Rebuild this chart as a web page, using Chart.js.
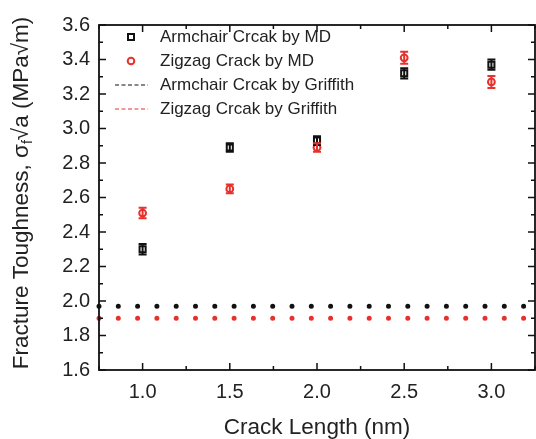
<!DOCTYPE html>
<html>
<head>
<meta charset="utf-8">
<script src="https://cdn.jsdelivr.net/npm/chart.js@4"></script>
<style>
  html, body { margin: 0; padding: 0; background: #fff; }
  #wrap { width: 536px; height: 439px; }
</style>
</head>
<body>
<div id="wrap"><canvas id="toughChart" width="536" height="439"></canvas></div>
<script>
// crack length (nm)
let crackLen = [1.0, 1.5, 2.0, 2.5, 3.0];
let armchairMD = [2.30, 2.89, 2.93, 3.32, 3.37];
let armchairErr = [0.03, 0.025, 0.025, 0.03, 0.03];
let zigzagMD = [2.51, 2.65, 2.89, 3.41, 3.27];
let zigzagErr = [0.03, 0.025, 0.025, 0.035, 0.035];
let griffithArmchair = 1.97;
let griffithZigzag = 1.90;
let xTicks = [1.0, 1.5, 2.0, 2.5, 3.0];
let yTicks = [1.6, 1.8, 2.0, 2.2, 2.4, 2.6, 2.8, 3.0, 3.2, 3.4, 3.6];
let xRange = [0.75, 3.25];

let labels = ['Armchair Crcak by MD', 'Zigzag Crack by MD', 'Armchair Crcak by Griffith', 'Zigzag Crcak by Griffith'];
let xTitle = 'Crack Length (nm)';
let RED = '#e8302c';
let FONT = '"Liberation Sans", Arial, sans-serif';

// error bars, drawn through the scales
let errorBars = {
    id: 'errorBars',
    afterDatasetsDraw(chart) {
        let c = chart.ctx, xs = chart.scales.x, ys = chart.scales.y;
        let sets = [[armchairMD, armchairErr, '#111'], [zigzagMD, zigzagErr, RED]];
        sets.forEach(s => {
            c.save();
            c.strokeStyle = s[2];
            c.lineWidth = 2;
            crackLen.forEach((x, i) => {
                let px = xs.getPixelForValue(x);
                let top = ys.getPixelForValue(s[0][i] + s[1][i]);
                let bot = ys.getPixelForValue(s[0][i] - s[1][i]);
                c.beginPath();
                c.moveTo(px, top); c.lineTo(px, bot);
                c.moveTo(px - 4, top); c.lineTo(px + 4, top);
                c.moveTo(px - 4, bot); c.lineTo(px + 4, bot);
                c.stroke();
            });
            c.restore();
        });
    }
};

// box frame with inward ticks, titles, legend
let frame = {
    id: 'frame',
    afterDraw(chart) {
        let c = chart.ctx, a = chart.chartArea, xs = chart.scales.x, ys = chart.scales.y;
        c.save();
        c.strokeStyle = '#111';
        c.lineWidth = 1.8;
        c.strokeRect(a.left, a.top, a.right - a.left, a.bottom - a.top);
        c.lineWidth = 1.5;
        c.beginPath();
        for (let v = 0.75; v <= 3.26; v += 0.25) {
            let px = xs.getPixelForValue(v);
            let len = (Math.abs(v * 2 - Math.round(v * 2)) < 0.01) ? 7 : 4;
            c.moveTo(px, a.bottom); c.lineTo(px, a.bottom - len);
            c.moveTo(px, a.top); c.lineTo(px, a.top + len);
        }
        for (let k = 16; k <= 36; k++) {
            let py = ys.getPixelForValue(k / 10);
            let len = (k % 2 === 0) ? 7 : 4;
            c.moveTo(a.left, py); c.lineTo(a.left + len, py);
            c.moveTo(a.right, py); c.lineTo(a.right - len, py);
        }
        c.stroke();

        // x title
        c.fillStyle = '#222';
        c.textAlign = 'center';
        c.textBaseline = 'middle';
        c.font = '22.5px ' + FONT;
        c.fillText(xTitle, (a.left + a.right) / 2, 428);

        // y title with subscript
        c.textAlign = 'left';
        c.translate(22, 193);
        c.rotate(-Math.PI / 2);
        let p1 = 'Fracture Toughness, \u03c3', p2 = 'f', p3 = '\u221aa (MPa\u221am)';
        c.font = '22.5px ' + FONT;
        let w1 = c.measureText(p1).width, w3 = c.measureText(p3).width;
        c.font = '14px ' + FONT;
        let w2 = c.measureText(p2).width;
        let sx = -(w1 + w2 + w3) / 2;
        c.font = '22.5px ' + FONT;
        c.fillText(p1, sx, 0);
        c.font = '14px ' + FONT;
        c.fillText(p2, sx + w1, 6);
        c.font = '22.5px ' + FONT;
        c.fillText(p3, sx + w1 + w2, 0);
        c.restore();

        // legend
        c.save();
        c.font = '17px ' + FONT;
        c.fillStyle = '#222';
        c.textBaseline = 'middle';
        let rows = [37, 61, 85, 109];
        rows.forEach((y, i) => {
            c.fillText(labels[i], 160, y);
        });
        c.lineWidth = 2;
        c.strokeStyle = '#111';
        c.strokeRect(128, 34, 6, 6);
        c.strokeStyle = RED;
        c.beginPath(); c.arc(131, 61, 3.3, 0, Math.PI * 2); c.stroke();
        c.lineWidth = 1.2;
        c.setLineDash([4, 2.5]);
        c.strokeStyle = '#111';
        c.beginPath(); c.moveTo(115, 85); c.lineTo(148, 85); c.stroke();
        c.strokeStyle = RED;
        c.beginPath(); c.moveTo(115, 109); c.lineTo(148, 109); c.stroke();
        c.restore();
    }
};

let ctx = document.getElementById('toughChart').getContext('2d');
let toughChart = new Chart(ctx, {
    type: 'scatter',
    data: {
        datasets: [{
            label: labels[0],
            data: crackLen.map((x, i) => ({x: x, y: armchairMD[i]})),
            pointStyle: 'rect',
            pointRadius: 4.3,
            borderColor: '#111',
            backgroundColor: 'rgba(0,0,0,0)',
            borderWidth: 2
        }, {
            label: labels[1],
            data: crackLen.map((x, i) => ({x: x, y: zigzagMD[i]})),
            pointStyle: 'circle',
            pointRadius: 3.4,
            borderColor: RED,
            backgroundColor: 'rgba(0,0,0,0)',
            borderWidth: 2
        }, {
            label: labels[2],
            type: 'line',
            data: xRange.map(x => ({x: x, y: griffithArmchair})),
            borderColor: '#111',
            borderWidth: 5,
            borderDash: [0, 19.3],
            borderCapStyle: 'round',
            pointRadius: 0,
            fill: false,
            clip: false
        }, {
            label: labels[3],
            type: 'line',
            data: xRange.map(x => ({x: x, y: griffithZigzag})),
            borderColor: RED,
            borderWidth: 5,
            borderDash: [0, 19.3],
            borderCapStyle: 'round',
            pointRadius: 0,
            fill: false,
            clip: false
        }]
    },
    options: {
        responsive: false,
        animation: false,
        layout: { autoPadding: false, padding: { left: 0, right: 1, top: 25, bottom: 0 } },
        plugins: {
            legend: { display: false },
            tooltip: { enabled: false }
        },
        scales: {
            x: {
                type: 'linear',
                min: xRange[0],
                max: xRange[1],
                grid: { display: false, drawTicks: false },
                border: { display: false },
                afterBuildTicks: s => { s.ticks = xTicks.map(v => ({value: v})); },
                afterFit: s => { s.height = 69; s.paddingLeft = 0; s.paddingRight = 0; },
                ticks: {
                    padding: 10,
                    color: '#222',
                    font: { family: FONT, size: 20 },
                    callback: v => Number(v).toFixed(1)
                }
            },
            y: {
                min: yTicks[0],
                max: yTicks[yTicks.length - 1],
                grid: { display: false, drawTicks: false },
                border: { display: false },
                afterBuildTicks: s => { s.ticks = yTicks.map(v => ({value: v})); },
                afterFit: s => { s.width = 99; s.paddingTop = 0; s.paddingBottom = 0; },
                ticks: {
                    padding: 9,
                    color: '#222',
                    font: { family: FONT, size: 20 },
                    callback: v => Number(v).toFixed(1)
                }
            }
        }
    },
    plugins: [errorBars, frame]
});
</script>
</body>
</html>
